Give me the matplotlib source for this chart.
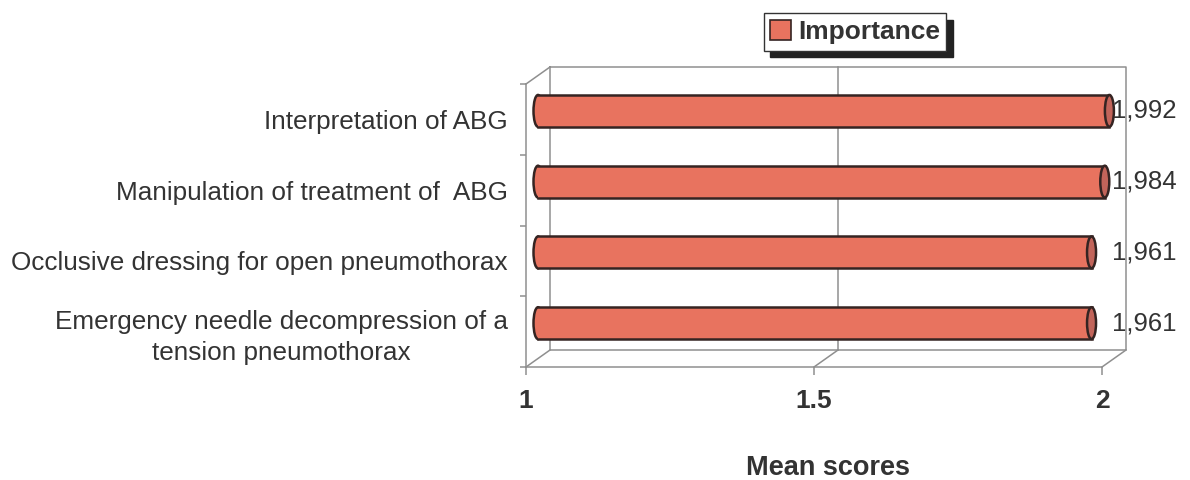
import matplotlib
matplotlib.use("Agg")
import matplotlib.pyplot as plt
from matplotlib.patches import Rectangle, Ellipse, Patch

plt.rcParams['font.family'] = ['Liberation Sans', 'DejaVu Sans']

categories = ["Interpretation of ABG",
              "Manipulation of treatment of  ABG",
              "Occlusive dressing for open pneumothorax",
              "Emergency needle decompression of a\ntension pneumothorax"]
importance = [1.992, 1.984, 1.961, 1.961]
x_ticks = [1, 1.5, 2]
x_tick_labels = ["1", "1.5", "2"]
series_name = "Importance"
x_title = "Mean scores"

BAR_FACE = '#E8735F'
CAP_FACE = '#C2645A'
BAR_EDGE = '#352422'
WALL = '#8f8f8f'
TEXT = '#333333'

fig = plt.figure(figsize=(11.9, 4.8), dpi=100)
ax = fig.add_axes([526 / 1190, 113 / 480, 576 / 1190, 283 / 480])
n = len(categories)
ax.set_xlim(1, 2)
ax.set_ylim(n, 0)

# depth of the fake 3D box (pixels), turned into data units
bbox = ax.get_window_extent()
depth_px = (24, 17)
ddx = depth_px[0] * 1.0 / bbox.width
ddy = depth_px[1] * n / bbox.height

line_kw = dict(color=WALL, lw=1.1, clip_on=False, zorder=1)

# back wall and gridline
ax.plot([1 + ddx, 2 + ddx, 2 + ddx, 1 + ddx, 1 + ddx],
        [-ddy, -ddy, n - ddy, n - ddy, -ddy], **line_kw)
ax.plot([1.5 + ddx, 1.5 + ddx], [-ddy, n - ddy], **line_kw)
# floor diagonals and left wall top edge
for xt in x_ticks:
    ax.plot([xt, xt + ddx], [n, n - ddy], **line_kw)
ax.plot([1, 1 + ddx], [0, -ddy], **line_kw)

# cylinders, sitting half way into the box
bar_h = 0.45
cap_w = 9.0 / bbox.width
for i, v in enumerate(importance):
    yc = i + 0.5 - ddy / 2
    x0 = 1 + ddx / 2
    x1 = v + ddx / 2
    ax.add_patch(Ellipse((x0, yc), cap_w, bar_h, fc=BAR_FACE, ec=BAR_EDGE,
                         lw=1.8, clip_on=False, zorder=3))
    ax.add_patch(Rectangle((x0, yc - bar_h / 2), x1 - x0, bar_h, fc=BAR_FACE,
                           ec='none', clip_on=False, zorder=4))
    for yy in (yc - bar_h / 2, yc + bar_h / 2):
        ax.plot([x0, x1], [yy, yy], color=BAR_EDGE, lw=1.8,
                clip_on=False, zorder=5)
    ax.add_patch(Ellipse((x1, yc), cap_w, bar_h, fc=CAP_FACE, ec=BAR_EDGE,
                         lw=1.8, clip_on=False, zorder=6))
    ax.text(2 + ddx * 0.4, yc, f"{v:.3f}".replace('.', ','), ha='left',
            va='center', fontsize=18.5, color=TEXT, zorder=7)

# axes
for side in ('top', 'right'):
    ax.spines[side].set_visible(False)
for side in ('left', 'bottom'):
    ax.spines[side].set_color(WALL)
    ax.spines[side].set_linewidth(1.1)
ax.set_facecolor('none')

ax.set_xticks(x_ticks)
ax.set_xticklabels(x_tick_labels, fontsize=19, fontweight='bold', color=TEXT)
ax.tick_params(axis='x', length=6, width=1.1, color=WALL, pad=10)

ax.set_yticks(range(n + 1))
ax.set_yticklabels([])
ax.set_yticks([i + 0.5 for i in range(n)], minor=True)
ax.set_yticklabels(categories, minor=True, fontsize=18.8, color=TEXT,
                   multialignment='center', linespacing=1.35)
ax.tick_params(axis='y', which='major', length=4, width=1.1, color=WALL)
ax.tick_params(axis='y', which='minor', length=0, pad=13)

ax.set_xlabel(x_title, fontsize=19.5, fontweight='bold', color=TEXT)
ax.xaxis.set_label_coords((828 - 526) / 576, -0.357)
ax.xaxis.label.set_va('center')

handles = [Patch(fc=BAR_FACE, ec=BAR_EDGE, lw=1.2, label=series_name)]
leg = ax.legend(handles=handles, loc='center',
                bbox_to_anchor=(855 / 1190, 1 - 32 / 480),
                bbox_transform=fig.transFigure,
                prop={'size': 19, 'weight': 'bold'},
                frameon=True, fancybox=False, edgecolor='#333333',
                framealpha=1, borderpad=0.25, handlelength=0.8,
                handleheight=0.8, handletextpad=0.25,
                shadow={'ox': 4.5, 'oy': -4.5, 'color': '#222222', 'alpha': 1})
leg.get_frame().set_linewidth(1.0)
for t in leg.get_texts():
    t.set_color(TEXT)

fig.savefig("out.png", dpi=100, facecolor='white')
